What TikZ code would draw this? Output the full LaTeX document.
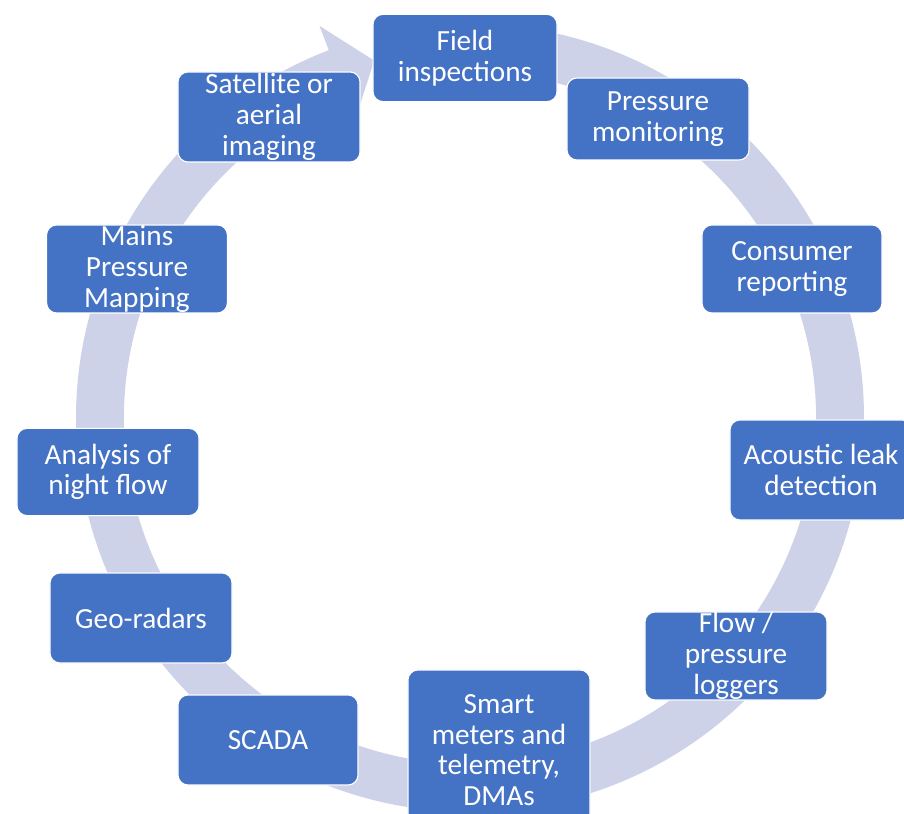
\documentclass[tikz,border=0pt]{standalone}
\usepackage{fontspec}
\setmainfont{Carlito}
\definecolor{boxblue}{HTML}{4472C4}
\definecolor{ringgray}{HTML}{CDD2E8}

\begin{document}
\begin{tikzpicture}[x=0.025cm,y=0.025cm,
  stage/.style={draw=white,line width=0.8pt,fill=boxblue,rounded corners=0.25cm,
      text=white,align=center,inner sep=0pt,
      minimum width=4.55cm,minimum height=2.2cm,
      font=\fontsize{20.8}{21.8}\selectfont}]
\useasboundingbox (0,0) rectangle (904,814);
\clip (0,0) rectangle (904,814);

% circular arrow, clockwise, head at the top left
\begin{scope}[shift={(470,396)}]
\fill[ringgray] (90:394) arc[start angle=90,end angle=-249,radius=394]
      -- (-249:420) -- (-255:370) -- (-249:320) -- (-249:346)
      arc[start angle=-249,end angle=90,radius=346] -- cycle;
\end{scope}

\node[stage,minimum width=4.6cm,minimum height=2.18cm] (field) at (465,756) {Field\\inspections};
\node[stage,minimum height=2.05cm] (pressure) at (658,695) {Pressure\\monitoring};
\node[stage,minimum width=4.5cm] (consumer) at (792,545) {Consumer\\reporting};
\node[stage,minimum height=2.5cm] (acoustic) at (821,344) {Acoustic leak\\detection};
\node[stage] (loggers) at (736,158) {Flow /\\pressure\\loggers};
\node[stage,minimum height=4cm] (smart) at (499,64) {Smart\\meters and\\telemetry,\\DMAs};
\node[stage,minimum width=4.5cm,minimum height=2.25cm] (scada) at (268,74) {SCADA};
\node[stage,minimum height=2.25cm] (georadar) at (141,196) {Geo-radars};
\node[stage,minimum height=2.18cm] (nightflow) at (108,342) {Analysis of\\night flow};
\node[stage,minimum width=4.52cm] (mains) at (137,545) {Mains\\Pressure\\Mapping};
\node[stage,minimum height=2.25cm] (satellite) at (269,697) {Satellite or\\aerial\\imaging};
\end{tikzpicture}
\end{document}
